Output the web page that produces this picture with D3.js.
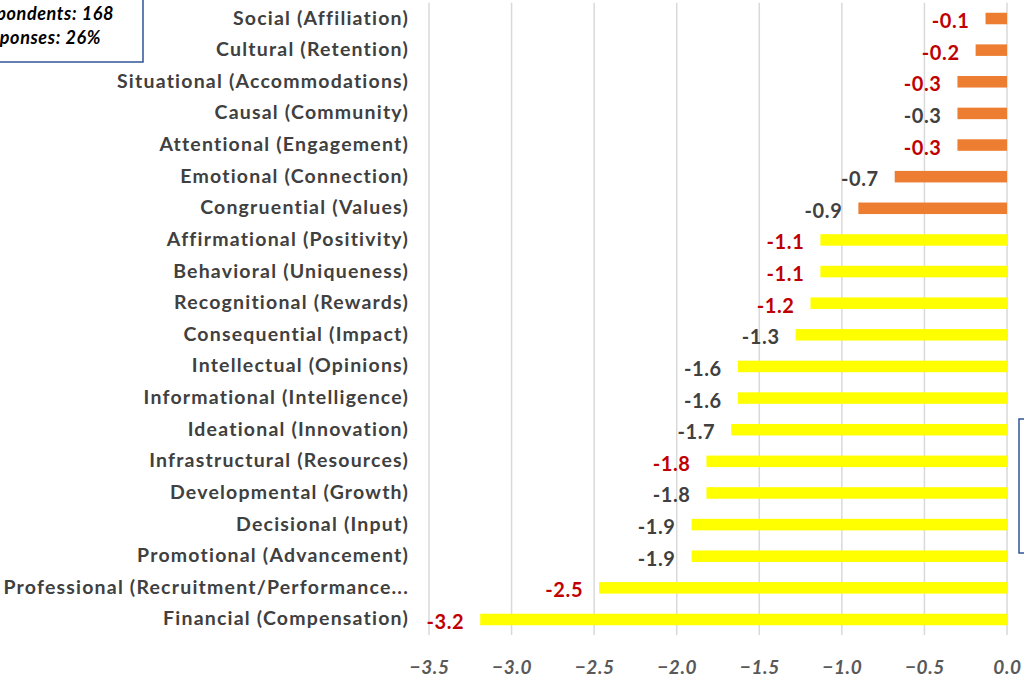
<!DOCTYPE html>
<html><head><meta charset="utf-8">
<script src="https://cdn.jsdelivr.net/npm/d3@7"></script>
<style>
html,body{margin:0;padding:0;background:#fff;overflow:hidden;}
svg{display:block;font-family:Lato,"Open Sans",sans-serif;}
</style></head>
<body><svg id="c" width="1024" height="678"></svg>
<script>
const categories = [
  "Social (Affiliation)","Cultural (Retention)","Situational (Accommodations)","Causal (Community)",
  "Attentional (Engagement)","Emotional (Connection)","Congruential (Values)","Affirmational (Positivity)",
  "Behavioral (Uniqueness)","Recognitional (Rewards)","Consequential (Impact)","Intellectual (Opinions)",
  "Informational (Intelligence)","Ideational (Innovation)","Infrastructural (Resources)","Developmental (Growth)",
  "Decisional (Input)","Promotional (Advancement)","Professional (Recruitment/Performance...","Financial (Compensation)"
];
const values = [-0.13,-0.19,-0.3,-0.3,-0.3,-0.68,-0.9,-1.13,-1.13,-1.19,-1.28,-1.63,-1.63,-1.67,-1.82,-1.82,-1.91,-1.91,-2.47,-3.19];
const valueLabels = ["-0.1","-0.2","-0.3","-0.3","-0.3","-0.7","-0.9","-1.1","-1.1","-1.2","-1.3","-1.6","-1.6","-1.7","-1.8","-1.8","-1.9","-1.9","-2.5","-3.2"];
const labelHighlighted = [1,1,1,0,1,0,0,1,1,1,0,0,0,0,1,0,0,0,1,1];
const barGroup = ["top","top","top","top","top","top","top","rest","rest","rest","rest","rest","rest","rest","rest","rest","rest","rest","rest","rest"];
const xTicks = [-3.5,-3.0,-2.5,-2.0,-1.5,-1.0,-0.5,0.0];
const infoLines = ["Respondents: 168","Responses: 26%"];

const svg = d3.select("#c");
const x = d3.scaleLinear().domain([-3.5,0]).range([429,1007]);
const y = d3.scaleBand().domain(categories).range([2.7,635.3]).paddingInner(0.636).paddingOuter(0.318);
const color = d3.scaleOrdinal().domain(["top","rest"]).range(["#ED7D31","#FFFF00"]);

// gridlines
svg.append("g").selectAll("line").data(xTicks).join("line")
  .attr("x1",d=>x(d)).attr("x2",d=>x(d)).attr("y1",2.7).attr("y2",635)
  .attr("stroke","#D9D9D9").attr("stroke-width",1.5);

// axis tick labels
const ax = svg.append("g").attr("transform","translate(0,674)")
  .call(d3.axisBottom(x).tickValues(xTicks).tickFormat(d3.format(".1f")).tickSize(0).tickPadding(0));
ax.select(".domain").remove();
ax.selectAll("text").attr("fill","#595959").attr("font-size","19px").attr("font-weight","bold")
  .attr("font-style","italic").attr("font-family","Lato,sans-serif").attr("dy","0")
  .attr("letter-spacing","0.6px");

// bars
const rows = categories.map((c,i)=>({c,v:values[i],l:valueLabels[i],h:labelHighlighted[i],g:barGroup[i]}));
svg.append("g").selectAll("rect").data(rows).join("rect")
  .attr("x",d=>x(d.v)).attr("y",d=>y(d.c)).attr("width",d=>x(0)-x(d.v)).attr("height",y.bandwidth())
  .attr("fill",d=>color(d.g));

// data labels
svg.append("g").selectAll("text").data(rows).join("text")
  .attr("x",d=>x(d.v)-16).attr("y",d=>y(d.c)+y.bandwidth()/2+9.5)
  .attr("text-anchor","end").attr("font-size","20px").attr("font-weight","bold")
  .attr("letter-spacing","0.6px")
  .attr("fill",d=>d.h?"#C00000":"#404040").text(d=>d.l);

// category labels
svg.append("g").selectAll("text").data(rows).join("text")
  .attr("x",409).attr("y",d=>y(d.c)+y.bandwidth()/2+6)
  .attr("text-anchor","end").attr("font-size","19.5px").attr("font-weight","bold")
  .attr("letter-spacing","1.2px")
  .attr("fill","#404040").text(d=>d.c);

// info box top-left
svg.append("rect").attr("x",-10).attr("y",-2).attr("width",153).attr("height",64)
  .attr("fill","#fff").attr("stroke","#2F5597").attr("stroke-width",1.5);
svg.append("g").selectAll("text").data(infoLines).join("text")
  .attr("x",(d,i)=>i===0?114:101).attr("y",(d,i)=>20+i*24)
  .attr("text-anchor","end").attr("font-size","18px").attr("font-weight","bold").attr("font-style","italic")
  .attr("letter-spacing","0.6px")
  .attr("fill","#000").text(d=>d);

// box at right edge
svg.append("rect").attr("x",1019).attr("y",419).attr("width",30).attr("height",134)
  .attr("fill","#fff").attr("stroke","#2F5597").attr("stroke-width",1.5);
</script></body></html>
